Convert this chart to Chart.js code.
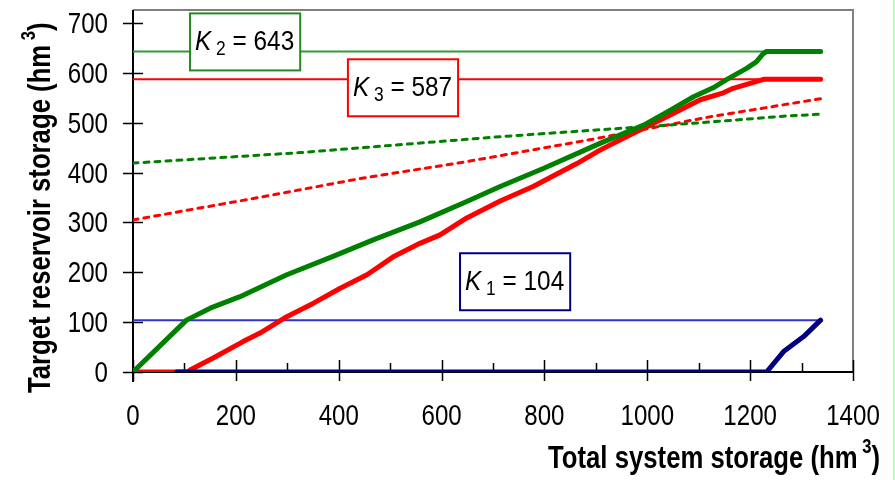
<!DOCTYPE html>
<html>
<head>
<meta charset="utf-8">
<script src="https://cdn.jsdelivr.net/npm/chart.js@4"></script>
<style>
  html, body { margin: 0; padding: 0; background: #fff; }
  #chart { display: block; }
</style>
</head>
<body>
<canvas id="chart" width="895" height="480"></canvas>
<script>
// total system storage (x) vs target reservoir storage (y), hm3
const k2X = [0, 104, 150, 208, 299, 389, 467, 558, 649, 714, 800, 909, 993, 1045, 1090, 1128, 1155, 1193, 1212, 1225, 1232, 1337]
const k2Y = [0, 104, 128, 151, 195, 232, 265, 301, 342, 372, 409, 459, 495, 525, 552, 570, 587, 609, 622, 638, 643, 643]

const k3X = [0, 107, 111, 156, 214, 247, 299, 351, 403, 455, 506, 558, 597, 649, 714, 778, 863, 908, 973, 1038, 1103, 1148, 1167, 1226, 1337]
const k3Y = [0, 0, 4, 28, 61, 78, 111, 138, 168, 195, 231, 258, 275, 309, 343, 372, 418, 445, 479, 512, 546, 560, 569, 587, 587]

const k1X = [85, 1232, 1265, 1304, 1337]
const k1Y = [0, 0, 41, 71, 104]

const dotGreenX = [0, 325, 714, 895, 1039, 1167, 1265, 1337]
const dotGreenY = [419, 440, 472, 485, 495, 505, 513, 517]

const dotRedX = [0, 234, 442, 649, 895, 1128, 1337]
const dotRedY = [305, 348, 388, 422, 467, 513, 548]

// capacities K1, K2, K3 and where their labels sit (data coords)
const capNames = ['1', '2', '3']
const capValues = [104, 643, 587]
const capEndX = [1337, 1337, 1337]
const capLabelX = [743, 218, 525]
const capLabelY = [181, 662, 570]

const xTicks = [0, 200, 400, 600, 800, 1000, 1200, 1400]
const yTicks = [0, 100, 200, 300, 400, 500, 600, 700]

const FONT = "'Liberation Sans', Arial, sans-serif"
const NARROW = 0.85
const thinColors = ['#3333cc', '#339933', '#ff0000']
const boxColors = ['#000080', '#228b22', '#ff0000']

const pts = (xs, ys) => xs.map((x, i) => ({ x: x, y: ys[i] }))

const chartE = document.getElementById('chart')

// narrow text: the original uses a condensed face, squeeze Liberation Sans instead
function widthOf(ctx, s, font, sx) {
   ctx.font = font
   return ctx.measureText(s).width * sx
}
function txt(ctx, s, x, y, font, sx, align) {
   ctx.save()
   ctx.font = font
   ctx.textAlign = align || 'left'
   ctx.textBaseline = 'alphabetic'
   ctx.translate(x, y)
   ctx.scale(sx, 1)
   ctx.fillText(s, 0, 0)
   ctx.restore()
}
// "label (hm ³)" with a raised small 3, drawn from x along the baseline
function unitTitle(ctx, s, x, y, size, sx) {
   const main = 'bold ' + size + 'px ' + FONT
   const small = 'bold ' + Math.round(size * 0.66) + 'px ' + FONT
   txt(ctx, s + ' (hm', x, y, main, sx)
   x += widthOf(ctx, s + ' (hm', main, sx)
   txt(ctx, ' 3', x, y - size * 0.5, small, sx)
   x += widthOf(ctx, ' 3', small, sx)
   txt(ctx, ')', x, y, main, sx)
}
function unitTitleWidth(ctx, s, size, sx) {
   const main = 'bold ' + size + 'px ' + FONT
   const small = 'bold ' + Math.round(size * 0.66) + 'px ' + FONT
   return widthOf(ctx, s + ' (hm', main, sx) + widthOf(ctx, ' 3', small, sx) + widthOf(ctx, ')', main, sx)
}

const frame = {
   id: 'frame',
   beforeDatasetsDraw(chart) {
      const { ctx, chartArea: a, scales } = chart
      ctx.save()
      ctx.lineCap = 'butt'
      // top + right border
      ctx.strokeStyle = '#808080'
      ctx.lineWidth = 2
      ctx.beginPath()
      ctx.moveTo(a.left, a.top)
      ctx.lineTo(a.right, a.top)
      ctx.lineTo(a.right, a.bottom)
      ctx.stroke()
      // axes
      ctx.strokeStyle = '#000'
      ctx.beginPath()
      ctx.moveTo(a.left, a.top)
      ctx.lineTo(a.left, a.bottom + 10)
      ctx.moveTo(a.left, a.bottom)
      ctx.lineTo(a.right, a.bottom)
      ctx.stroke()
      // tick marks
      ctx.lineWidth = 1.5
      ctx.beginPath()
      for (let v = 0; v <= 1400; v += 100) {
         const px = Math.round(scales.x.getPixelForValue(v)) + 0.5
         if (v % 200 === 0) {
            ctx.moveTo(px, a.bottom - 12)
            ctx.lineTo(px, a.bottom + 9)
         } else {
            ctx.moveTo(px, a.bottom - 9)
            ctx.lineTo(px, a.bottom)
         }
      }
      yTicks.forEach(v => {
         const py = Math.round(scales.y.getPixelForValue(v)) + 0.5
         ctx.moveTo(a.left - 10, py)
         ctx.lineTo(a.left + 10, py)
      })
      ctx.stroke()
      ctx.restore()

      // tick labels
      ctx.save()
      ctx.fillStyle = '#000'
      const tf = '29px ' + FONT
      xTicks.forEach(v => txt(ctx, String(v), scales.x.getPixelForValue(v), 425, tf, 0.83, 'center'))
      yTicks.forEach(v => txt(ctx, String(v), a.left - 25, scales.y.getPixelForValue(v) + 10, tf, 0.83, 'right'))
      ctx.restore()
   },
   afterDatasetsDraw(chart) {
      const { ctx, scales } = chart
      ctx.save()
      capNames.forEach((n, i) => {
         const cx = scales.x.getPixelForValue(capLabelX[i])
         const cy = scales.y.getPixelForValue(capLabelY[i])
         const big = '28px ' + FONT
         const kFont = 'italic 28px ' + FONT
         const sub = '20px ' + FONT
         const rest = ' = ' + capValues[i]
         const sx = 0.87
         const wK = widthOf(ctx, 'K', kFont, sx)
         const wS = widthOf(ctx, ' ' + n, sub, sx)
         const wR = widthOf(ctx, rest, big, sx)
         const w = wK + wS + wR + 11
         const h = 57
         ctx.fillStyle = '#fff'
         ctx.fillRect(cx - w / 2, cy - h / 2, w, h)
         ctx.strokeStyle = boxColors[i]
         ctx.lineWidth = 2
         ctx.strokeRect(cx - w / 2, cy - h / 2, w, h)
         ctx.fillStyle = '#000'
         let x = cx - w / 2 + 5
         const base = cy + 8
         txt(ctx, 'K', x, base, kFont, sx)
         x += wK
         txt(ctx, ' ' + n, x, base + 5, sub, sx)
         x += wS
         txt(ctx, rest, x, base, big, sx)
      })

      // axis titles
      ctx.fillStyle = '#000'
      const size = 31
      const sx = 332 / unitTitleWidth(ctx, 'Total system storage', size, 1)
      unitTitle(ctx, 'Total system storage', 880 - unitTitleWidth(ctx, 'Total system storage', size, sx), 468, size, sx)
      ctx.save()
      ctx.translate(50, 393)
      ctx.rotate(-Math.PI / 2)
      unitTitle(ctx, 'Target reservoir storage', 0, 0, size, sx)
      ctx.restore()
      ctx.restore()

      // page edge
      ctx.save()
      ctx.fillStyle = '#b3ffb3'
      ctx.fillRect(chart.width - 2, 0, 2, chart.height)
      ctx.restore()
   }
}

const thin = (i) => ({
   data: pts([0, capEndX[i]], [capValues[i], capValues[i]]),
   borderColor: thinColors[i],
   borderWidth: 2,
   order: 5
})

new Chart(chartE, {
   type: 'scatter',
   data: {
      datasets: [
         { data: pts(dotGreenX, dotGreenY), borderColor: '#008000', borderWidth: 3, borderDash: [5, 6], order: 4 },
         { data: pts(dotRedX, dotRedY), borderColor: '#ff0000', borderWidth: 3, borderDash: [5, 6], order: 4 },
         thin(0), thin(1), thin(2),
         { data: pts(k3X, k3Y), borderColor: '#ff0000', borderWidth: 5, order: 3 },
         { data: pts(k2X, k2Y), borderColor: '#008000', borderWidth: 5, order: 2 },
         { data: pts(k1X, k1Y), borderColor: '#000080', borderWidth: 5, order: 1 }
      ]
   },
   options: {
      responsive: false,
      animation: false,
      showLine: true,
      elements: { point: { radius: 0 }, line: { tension: 0, borderCapStyle: 'round', borderJoinStyle: 'round' } },
      layout: { padding: { top: 10, right: 42, left: 0, bottom: 0 } },
      plugins: { legend: { display: false }, tooltip: { enabled: false } },
      scales: {
         x: {
            type: 'linear', min: 0, max: 1400,
            afterBuildTicks(s) { s.ticks = xTicks.map(v => ({ value: v })) },
            ticks: { display: false },
            grid: { display: false, drawTicks: false },
            border: { display: false },
            afterFit(s) { s.height = 108 }
         },
         y: {
            type: 'linear', min: 0, max: 726,
            afterBuildTicks(s) { s.ticks = yTicks.map(v => ({ value: v })) },
            ticks: { display: false },
            grid: { display: false, drawTicks: false },
            border: { display: false },
            afterFit(s) { s.width = 133 }
         }
      }
   },
   plugins: [frame]
})
</script>
</body>
</html>
